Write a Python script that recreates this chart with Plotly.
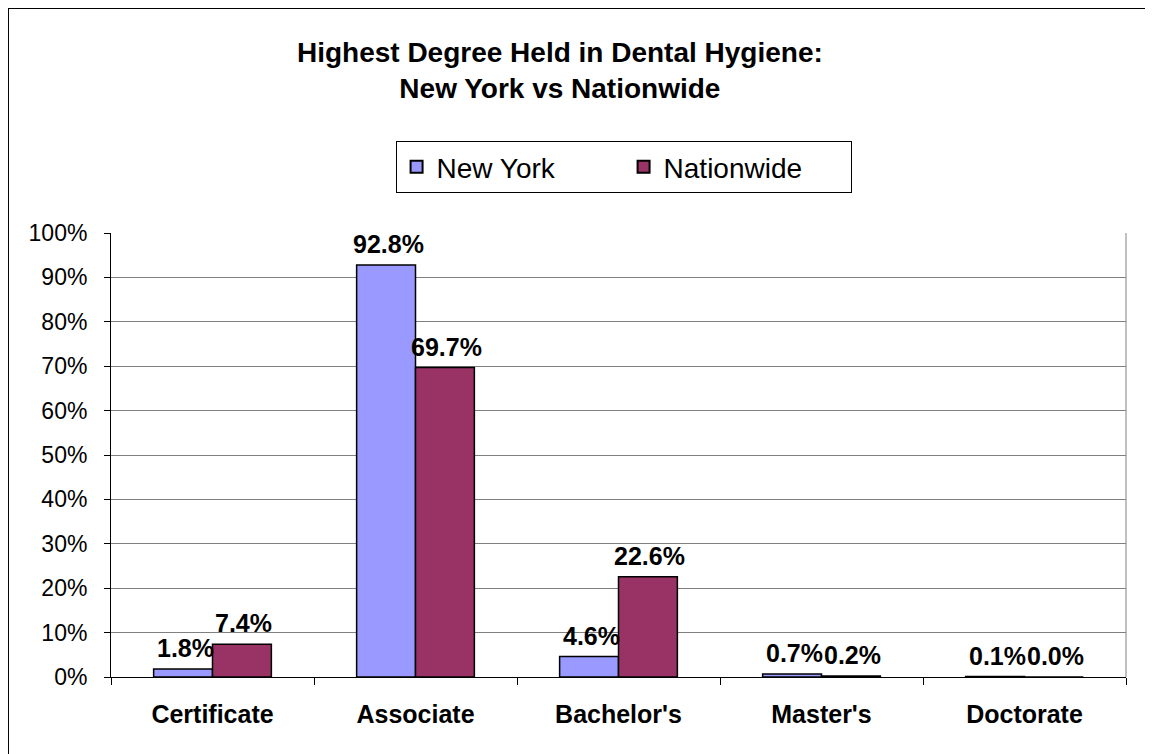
import plotly.graph_objects as go

categories = ["Certificate", "Associate", "Bachelor's", "Master's", "Doctorate"]
new_york = [0.018, 0.928, 0.046, 0.007, 0.001]
nationwide = [0.074, 0.697, 0.226, 0.002, 0.000]
series_names = ["New York", "Nationwide"]
y_ticks = [0, 0.1, 0.2, 0.3, 0.4, 0.5, 0.6, 0.7, 0.8, 0.9, 1.0]
y_tick_labels = [f"{int(round(v*100))}%" for v in y_ticks]

FONT = "Arial, 'Liberation Sans', sans-serif"
NY_COLOR = "#9999FF"
NW_COLOR = "#993366"

fig = go.Figure()
for name, vals, col in [(series_names[0], new_york, NY_COLOR), (series_names[1], nationwide, NW_COLOR)]:
    fig.add_trace(go.Bar(
        x=categories, y=vals, name=name,
        marker=dict(color=col, line=dict(color="#000000", width=1.5)),
    ))

# data labels
annotations = []
for vals, shift in [(new_york, -27), (nationwide, 31)]:
    for c, v in zip(categories, vals):
        annotations.append(dict(
            x=c, y=v, xref="x", yref="y", text=f"<b>{v*100:.1f}%</b>",
            showarrow=False, xshift=shift, yshift=5, yanchor="bottom",
            font=dict(family=FONT, size=25, color="#000000"),
        ))

fig.update_layout(
    width=1145, height=746,
    paper_bgcolor="#FFFFFF", plot_bgcolor="#FFFFFF",
    margin=dict(l=103, r=27, t=225, b=77),
    barmode="group", bargap=0.42, bargroupgap=0,
    title=dict(
        text="<b>Highest Degree Held in Dental Hygiene:<br>New York vs Nationwide</b>",
        x=0.482, xanchor="center", xref="container",
        y=0.928, yanchor="middle", yref="container",
        font=dict(family=FONT, size=28, color="#000000"),
    ),
    legend=dict(
        orientation="h", x=0.505, xanchor="center", y=1.207, yanchor="top",
        bordercolor="#000000", borderwidth=1, bgcolor="#FFFFFF",
        font=dict(family=FONT, size=28, color="#000000"),
        entrywidth=182, itemsizing="constant", traceorder="normal",
    ),
    xaxis=dict(
        showline=True, linecolor="#000000", linewidth=1,
        ticks="outside", ticklen=7, tickcolor="#000000", tickson="boundaries",
        tickfont=dict(family=FONT, size=25, color="#000000"),
        ticklabelstandoff=15,
        tickvals=categories, ticktext=[f"<b>{c}</b>" for c in categories],
    ),
    yaxis=dict(
        range=[0, 1], tickvals=y_ticks, ticktext=y_tick_labels,
        showline=True, linecolor="#000000", linewidth=1,
        ticks="outside", ticklen=6, tickcolor="#000000",
        showgrid=True, gridcolor="#808080", gridwidth=1,
        tickfont=dict(family=FONT, size=23, color="#000000"),
        ticklabelstandoff=12, zeroline=False,
    ),
    annotations=annotations,
    shapes=[
        dict(type="line", xref="paper", yref="paper", x0=1, x1=1, y0=0, y1=1,
             line=dict(color="#808080", width=1)),
        dict(type="rect", xref="paper", yref="paper",
             x0=-0.1015, x1=1.0227, y0=-0.2, y1=1.5068,
             line=dict(color="#000000", width=2), fillcolor="rgba(0,0,0,0)"),
    ],
)

fig.write_html("out.html")
